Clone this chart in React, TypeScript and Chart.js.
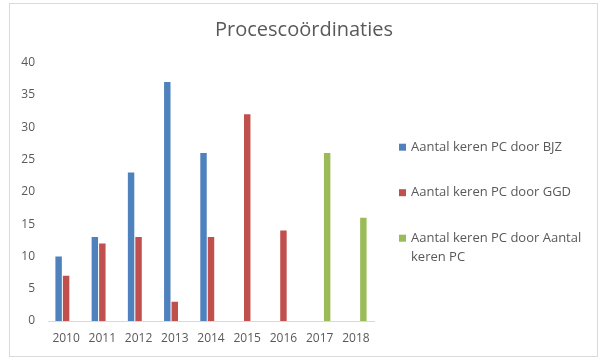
import React, { useEffect, useRef } from 'react';
import { Chart, registerables, layouts } from 'chart.js';

Chart.register(...registerables);

// ---- data ----
const TITLE = 'Procescoördinaties';
const YEARS = ['2010', '2011', '2012', '2013', '2014', '2015', '2016', '2017', '2018'];
const BJZ = [10, 13, 23, 37, 26, null, null, null, null];
const GGD = [7, 12, 13, 3, 13, 32, 14, null, null];
const PC = [null, null, null, null, null, null, null, 26, 16];
const SERIES_LABELS = [
  'Aantal keren PC door BJZ',
  'Aantal keren PC door GGD',
  'Aantal keren PC door Aantal keren PC',
];
const SERIES_COLORS = ['#4F81BD', '#C0504D', '#9BBB59'];
const Y_MIN = 0;
const Y_MAX = 40;
const Y_STEP = 5;

// ---- styles ----
const FONT = '"Open Sans", sans-serif';
const TEXT_COLOR = '#595959';
const AXIS_COLOR = '#d9d9d9';
const LEGEND_WIDTH = 226;
const LEGEND_FONT_SIZE = 13;

function wrapText(ctx: CanvasRenderingContext2D, text: string, maxWidth: number): string[] {
  const words = text.split(' ');
  const lines: string[] = [];
  let cur = '';
  for (const w of words) {
    const test = cur ? cur + ' ' + w : w;
    if (cur && ctx.measureText(test).width > maxWidth) {
      lines.push(cur);
      cur = w;
    } else {
      cur = test;
    }
  }
  if (cur) lines.push(cur);
  return lines;
}

function makeSideLegend(chart: any) {
  return {
    position: 'right',
    weight: 0,
    fullSize: false,
    options: { stackWeight: 1 },
    left: 0,
    top: 0,
    right: 0,
    bottom: 0,
    width: 0,
    height: 0,
    isHorizontal() {
      return false;
    },
    update(_maxWidth: number, maxHeight: number) {
      this.width = LEGEND_WIDTH;
      this.height = maxHeight;
    },
    draw() {
      const ctx: CanvasRenderingContext2D = chart.ctx;
      ctx.save();
      ctx.font = `${LEGEND_FONT_SIZE}px ${FONT}`;
      ctx.textBaseline = 'middle';
      ctx.textAlign = 'left';
      const boxX = this.left + 25;
      const textX = boxX + 12;
      let y = this.top + 84.5;
      chart.data.datasets.forEach((ds: any) => {
        ctx.fillStyle = ds.backgroundColor;
        ctx.fillRect(boxX, y - 3.5, 7, 7);
        ctx.fillStyle = TEXT_COLOR;
        const lines = wrapText(ctx, ds.label, this.right - textX - 4);
        lines.forEach((ln, j) => ctx.fillText(ln, textX, y + j * 19));
        y += 45.5;
      });
      ctx.restore();
    },
  };
}

const sideLegendPlugin = {
  id: 'sideLegend',
  beforeInit(chart: any) {
    layouts.addBox(chart, makeSideLegend(chart) as any);
  },
};

export default function App() {
  const canvasRef = useRef<HTMLCanvasElement | null>(null);

  useEffect(() => {
    if (!canvasRef.current) return;
    const series = [BJZ, GGD, PC];
    const chart = new Chart(canvasRef.current, {
      type: 'bar',
      data: {
        labels: YEARS,
        datasets: series.map((values, i) => ({
          label: SERIES_LABELS[i],
          data: values,
          backgroundColor: SERIES_COLORS[i],
          borderWidth: 0,
          categoryPercentage: 0.62,
          barPercentage: 0.86,
        })),
      },
      options: {
        responsive: false,
        animation: false,
        layout: { padding: { left: 8, right: 0, top: 0, bottom: 0 } },
        plugins: {
          legend: { display: false },
          tooltip: { enabled: false },
          title: {
            display: true,
            text: TITLE,
            color: TEXT_COLOR,
            font: { family: FONT, size: 20, weight: 'normal' },
            padding: { top: 18, bottom: 20.7 },
          },
        },
        scales: {
          x: {
            grid: { display: false, drawTicks: false },
            border: { display: true, color: AXIS_COLOR, width: 1 },
            ticks: {
              color: TEXT_COLOR,
              font: { family: FONT, size: 12 },
              padding: 10,
              autoSkip: false,
              maxRotation: 0,
            },
            afterFit: (s: any) => {
              s.height = 37;
            },
          },
          y: {
            min: Y_MIN,
            max: Y_MAX,
            ticks: {
              stepSize: Y_STEP,
              color: TEXT_COLOR,
              font: { family: FONT, size: 12 },
              padding: 13,
            },
            grid: { display: false, drawTicks: false },
            border: { display: false },
            afterFit: (s: any) => {
              s.width = 40;
            },
          },
        },
      },
      plugins: [sideLegendPlugin],
    });
    return () => chart.destroy();
  }, []);

  return (
    <>
      <div
        style={{
          position: 'absolute',
          left: 9,
          top: 3,
          width: 589,
          height: 354,
          boxSizing: 'border-box',
          border: `1px solid ${AXIS_COLOR}`,
          pointerEvents: 'none',
        }}
      />
      <canvas
        ref={canvasRef}
        width={600}
        height={358}
        style={{ position: 'absolute', left: 0, top: 0 }}
      />
    </>
  );
}
